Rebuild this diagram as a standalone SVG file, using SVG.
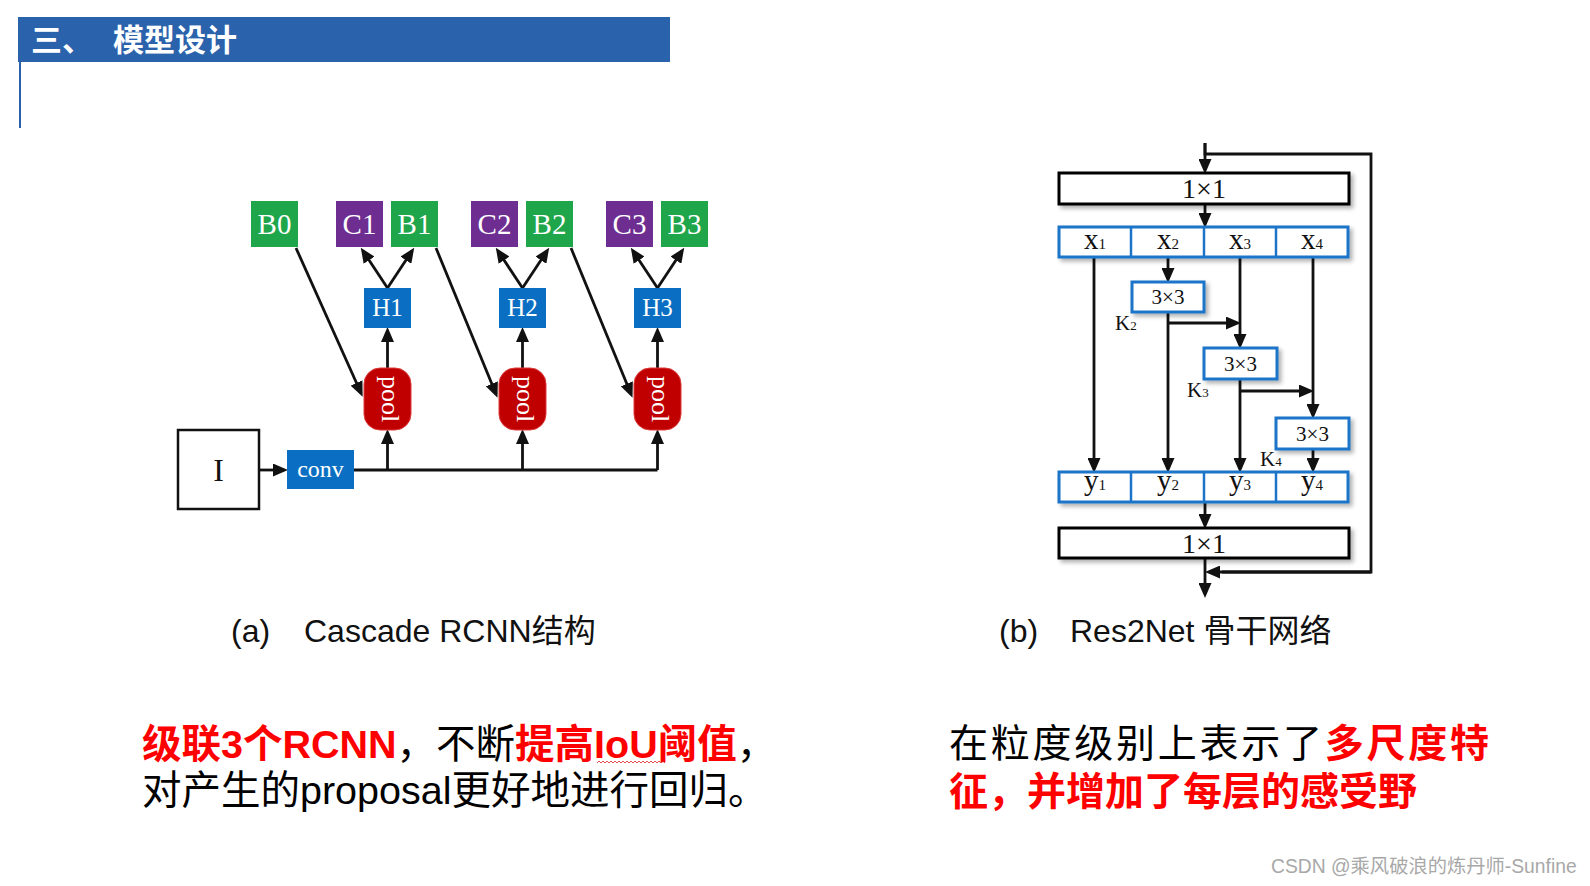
<svg xmlns="http://www.w3.org/2000/svg" width="1590" height="886" viewBox="0 0 1590 886">
<defs>
<marker id="ah" markerWidth="15" markerHeight="13" refX="11" refY="6.5" orient="auto" markerUnits="userSpaceOnUse"><path d="M0,0 L15,6.5 L0,13 z" fill="#111"/></marker>
<filter id="sh" x="-10%" y="-20%" width="130%" height="160%"><feDropShadow dx="3" dy="3" stdDeviation="2" flood-color="#000" flood-opacity="0.3"/></filter>
<style>
.ln{stroke:#111;stroke-width:2.8;fill:none}
.ar{stroke:#111;stroke-width:2.8;fill:none;marker-end:url(#ah)}
.lbl{font-family:"Liberation Serif","Noto Serif CJK SC",serif;fill:#fff;text-anchor:middle}
.grn{fill:#1fa64b}
.pur{fill:#6e2d91}
.blu{fill:#0a6fc2}
.pool{fill:#c00000;stroke:#dd3a3a;stroke-width:1}
.bk{fill:#fff;stroke:#000;stroke-width:3;filter:url(#sh)}
.bb{fill:#fff;stroke:#1b74c8;stroke-width:3;filter:url(#sh)}
.bt{font-family:"Liberation Serif",serif;fill:#111;text-anchor:middle}
.cap{font-family:"Liberation Sans","Noto Sans CJK SC",sans-serif;font-size:32px;fill:#111}
.body{font-family:"Liberation Sans","Noto Sans CJK SC",sans-serif;fill:#000}
.red{fill:#ff0000;font-weight:bold}
</style>
</defs>
<rect width="1590" height="886" fill="#fff"/>

<g id="header">
<rect x="18" y="17" width="652" height="45" fill="#2a62ac"/>
<line x1="20" y1="62" x2="20" y2="128" stroke="#2a62ac" stroke-width="2"/>
<text x="31" y="51" font-family="'Noto Sans CJK SC',sans-serif" font-size="31" font-weight="bold" fill="#fff">三、</text>
<text x="113" y="51" font-family="'Noto Sans CJK SC',sans-serif" font-size="31" font-weight="bold" fill="#fff">模型设计</text>
</g>

<!-- Diagram (a) Cascade RCNN -->
<g id="a-connectors">
<line class="ar" x1="296" y1="248" x2="361" y2="393"/>
<line class="ar" x1="436" y1="248" x2="496" y2="394"/>
<line class="ar" x1="571" y1="248" x2="631" y2="394"/>
<line class="ar" x1="387.5" y1="288" x2="363" y2="251"/>
<line class="ar" x1="387.5" y1="288" x2="412" y2="251"/>
<line class="ar" x1="522.5" y1="288" x2="498" y2="251"/>
<line class="ar" x1="522.5" y1="288" x2="547" y2="251"/>
<line class="ar" x1="657.5" y1="288" x2="633" y2="251"/>
<line class="ar" x1="657.5" y1="288" x2="682" y2="251"/>
<line class="ar" x1="387.5" y1="368" x2="387.5" y2="331"/>
<line class="ar" x1="522.5" y1="368" x2="522.5" y2="331"/>
<line class="ar" x1="657.5" y1="368" x2="657.5" y2="331"/>
<polyline class="ln" points="354,470 657.5,470"/>
<line class="ar" x1="387.5" y1="470" x2="387.5" y2="433"/>
<line class="ar" x1="522.5" y1="470" x2="522.5" y2="433"/>
<line class="ar" x1="657.5" y1="470" x2="657.5" y2="433"/>
<line class="ar" x1="260" y1="470" x2="284" y2="470"/>
</g>
<g id="B0"><rect class="grn" x="251" y="201" width="47" height="46"/><text class="lbl" x="274.5" y="234" font-size="29">B0</text></g>
<g id="C1"><rect class="pur" x="336" y="201" width="47" height="46"/><text class="lbl" x="359.5" y="234" font-size="29">C1</text></g>
<g id="B1"><rect class="grn" x="391" y="201" width="47" height="46"/><text class="lbl" x="414.5" y="234" font-size="29">B1</text></g>
<g id="C2"><rect class="pur" x="471" y="201" width="47" height="46"/><text class="lbl" x="494.5" y="234" font-size="29">C2</text></g>
<g id="B2"><rect class="grn" x="526" y="201" width="47" height="46"/><text class="lbl" x="549.5" y="234" font-size="29">B2</text></g>
<g id="C3"><rect class="pur" x="606" y="201" width="47" height="46"/><text class="lbl" x="629.5" y="234" font-size="29">C3</text></g>
<g id="B3"><rect class="grn" x="661" y="201" width="47" height="46"/><text class="lbl" x="684.5" y="234" font-size="29">B3</text></g>
<g id="H1"><rect class="blu" x="364" y="288" width="47" height="40"/><text class="lbl" x="387.5" y="316" font-size="25">H1</text></g>
<g id="H2"><rect class="blu" x="499" y="288" width="47" height="40"/><text class="lbl" x="522.5" y="316" font-size="25">H2</text></g>
<g id="H3"><rect class="blu" x="634" y="288" width="47" height="40"/><text class="lbl" x="657.5" y="316" font-size="25">H3</text></g>
<g id="pool1"><rect class="pool" x="364" y="368" width="47" height="62" rx="16"/><text class="lbl" font-size="26" transform="translate(387.5,399) rotate(90)" y="6">pool</text></g>
<g id="pool2"><rect class="pool" x="499" y="368" width="47" height="62" rx="16"/><text class="lbl" font-size="26" transform="translate(522.5,399) rotate(90)" y="6">pool</text></g>
<g id="pool3"><rect class="pool" x="634" y="368" width="47" height="62" rx="16"/><text class="lbl" font-size="26" transform="translate(657.5,399) rotate(90)" y="6">pool</text></g>
<g id="I"><rect x="178" y="430" width="81" height="79" fill="#fff" stroke="#111" stroke-width="2.5"/><text x="218.5" y="481" font-family="'Liberation Serif',serif" font-size="32" fill="#111" text-anchor="middle">I</text></g>
<g id="conv"><rect class="blu" x="287" y="450" width="67" height="39"/><text class="lbl" x="320.5" y="477" font-size="24">conv</text></g>

<!-- Diagram (b) Res2Net -->
<g id="b-connectors">
<polyline class="ln" points="1205,143 1205,154 1371,154 1371,572 1222,572"/>
<line class="ar" x1="1371" y1="572" x2="1209" y2="572"/>
<line class="ar" x1="1205" y1="143" x2="1205" y2="170"/>
<line class="ar" x1="1205" y1="204" x2="1205" y2="224"/>
<line class="ar" x1="1094" y1="257" x2="1094" y2="469"/>
<line class="ar" x1="1168" y1="257" x2="1168" y2="279"/>
<line class="ar" x1="1168" y1="312" x2="1168" y2="469"/>
<line class="ar" x1="1168" y1="323" x2="1237" y2="323"/>
<line class="ar" x1="1240" y1="257" x2="1240" y2="345"/>
<line class="ar" x1="1240" y1="379" x2="1240" y2="469"/>
<line class="ar" x1="1240" y1="391" x2="1310" y2="391"/>
<line class="ar" x1="1313" y1="257" x2="1313" y2="415"/>
<line class="ar" x1="1313" y1="449" x2="1313" y2="469"/>
<line class="ar" x1="1205" y1="502" x2="1205" y2="525"/>
<line class="ar" x1="1205" y1="558" x2="1205" y2="594"/>
</g>
<g id="top1x1"><rect class="bk" x="1059" y="173" width="290" height="31"/><text class="bt" x="1204" y="198" font-size="28">1×1</text></g>
<g id="xrow">
<rect class="bb" x="1059" y="227" width="289" height="30"/>
<line x1="1131" y1="227" x2="1131" y2="257" stroke="#1b74c8" stroke-width="2.5"/>
<line x1="1204" y1="227" x2="1204" y2="257" stroke="#1b74c8" stroke-width="2.5"/>
<line x1="1276" y1="227" x2="1276" y2="257" stroke="#1b74c8" stroke-width="2.5"/>
<text class="bt" x="1095" y="249" font-size="29">x<tspan font-size="15">1</tspan></text>
<text class="bt" x="1168" y="249" font-size="29">x<tspan font-size="15">2</tspan></text>
<text class="bt" x="1240" y="249" font-size="29">x<tspan font-size="15">3</tspan></text>
<text class="bt" x="1312" y="249" font-size="29">x<tspan font-size="15">4</tspan></text>
</g>
<g id="k2box"><rect class="bb" x="1132" y="282" width="72" height="30"/><text class="bt" x="1168" y="304" font-size="21">3×3</text></g>
<g id="k3box"><rect class="bb" x="1204" y="348" width="73" height="31"/><text class="bt" x="1240.5" y="371" font-size="21">3×3</text></g>
<g id="k4box"><rect class="bb" x="1276" y="418" width="73" height="31"/><text class="bt" x="1312.5" y="441" font-size="21">3×3</text></g>
<g id="klabels" font-family="'Liberation Serif',serif" fill="#111">
<text x="1115" y="330" font-size="21">K<tspan font-size="13">2</tspan></text>
<text x="1187" y="397" font-size="21">K<tspan font-size="13">3</tspan></text>
<text x="1260" y="466" font-size="21">K<tspan font-size="13">4</tspan></text>
</g>
<g id="yrow">
<rect class="bb" x="1059" y="472" width="289" height="30"/>
<line x1="1131" y1="472" x2="1131" y2="502" stroke="#1b74c8" stroke-width="2.5"/>
<line x1="1204" y1="472" x2="1204" y2="502" stroke="#1b74c8" stroke-width="2.5"/>
<line x1="1276" y1="472" x2="1276" y2="502" stroke="#1b74c8" stroke-width="2.5"/>
<text class="bt" x="1095" y="490" font-size="29">y<tspan font-size="15">1</tspan></text>
<text class="bt" x="1168" y="490" font-size="29">y<tspan font-size="15">2</tspan></text>
<text class="bt" x="1240" y="490" font-size="29">y<tspan font-size="15">3</tspan></text>
<text class="bt" x="1312" y="490" font-size="29">y<tspan font-size="15">4</tspan></text>
</g>
<g id="bot1x1"><rect class="bk" x="1059" y="528" width="290" height="30"/><text class="bt" x="1204" y="553" font-size="28">1×1</text></g>

<g id="captions">
<text class="cap" x="231" y="642">(a)</text>
<text class="cap" x="304" y="642">Cascade RCNN结构</text>
<text class="cap" x="999" y="642">(b)</text>
<text class="cap" x="1070" y="642">Res2Net 骨干网络</text>
</g>

<g id="left-text">
<text class="body" x="142" y="758" font-size="39.5"><tspan class="red">级联3个RCNN</tspan>，不断<tspan class="red">提高IoU阈值</tspan>，</text>
<text class="body" x="142" y="804" font-size="39.5">对产生的proposal更好地进行回归。</text>
<path d="M597,763 l2,-2 l2,2 l2,-2 l2,2 l2,-2 l2,2 l2,-2 l2,2 l2,-2 l2,2 l2,-2 l2,2 l2,-2 l2,2 l2,-2 l2,2 l2,-2 l2,2 l2,-2 l2,2 l2,-2 l2,2 l2,-2 l2,2 l2,-2 l2,2 l2,-2 l2,2 l2,-2 l2,2 l2,-2 l2,2 l2,-2 l2,2" fill="none" stroke="#e02020" stroke-width="0.8"/>
</g>

<g id="right-text">
<text class="body" x="949" y="757" font-size="39" textLength="540">在粒度级别上表示了<tspan class="red">多尺度特</tspan></text>
<text class="body red" x="949" y="805" font-size="39">征，并增加了每层的感受野</text>
</g>

<text x="1271" y="873" font-family="'Liberation Sans','Noto Sans CJK SC',sans-serif" font-size="19.3" fill="#a8a8a8">CSDN @乘风破浪的炼丹师-Sunfine</text>
</svg>
